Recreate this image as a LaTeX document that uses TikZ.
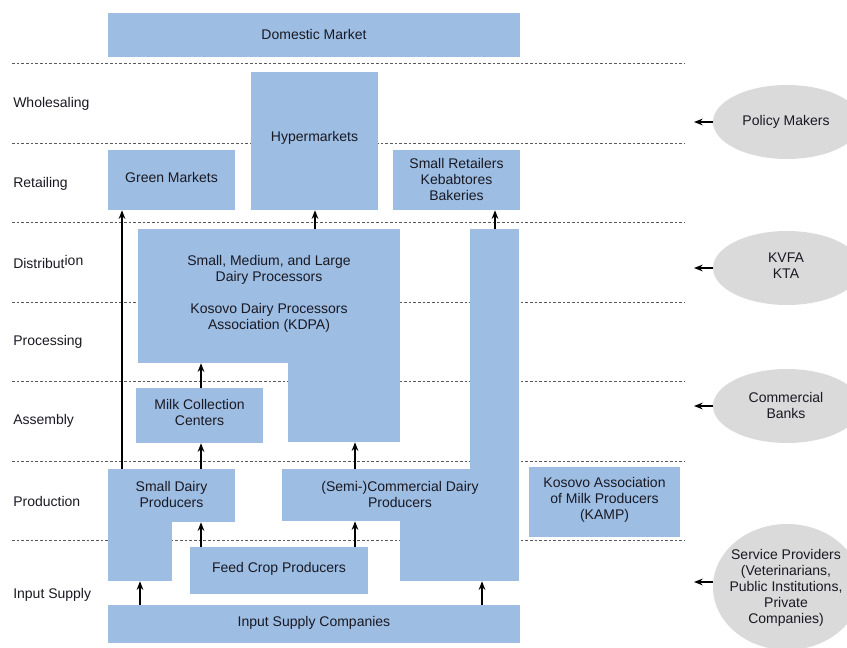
\documentclass[tikz,border=0pt]{standalone}
\usepackage{fontspec}
\setmainfont{Liberation Sans}
\usetikzlibrary{fit,shapes.geometric,arrows.meta}
\definecolor{boxblue}{RGB}{157,189,227}
\definecolor{ellgray}{RGB}{218,218,218}
\definecolor{txt}{RGB}{25,25,35}
\definecolor{dashgray}{RGB}{90,90,90}
\begin{document}
\begin{tikzpicture}[x=0.75pt,y=-0.75pt,
  font=\fontsize{10.5}{12}\selectfont, text=txt,
  box/.style={fill=boxblue, inner sep=0pt, align=center},
  ell/.style={ellipse, fill=ellgray, inner sep=0pt, align=center, minimum width=111pt, minimum height=55.5pt},
  arr/.style={line width=1.3pt, -{Stealth[length=6.5pt,width=5pt]}},
  sep/.style={dashgray, line width=0.6pt, dash pattern=on 2pt off 1.5pt},
  rowlbl/.style={anchor=west, inner sep=0pt},
  lbl/.style={align=center, inner sep=0pt}]
\useasboundingbox (0,0) rectangle (847,648);
\clip (0,0) rectangle (847,648);

% separators
\foreach \yy in {63,143,222,302,381,461,540} \draw[sep] (12,\yy) -- (685,\yy);

% row labels
\node[rowlbl] (rw) at (13,104) {Wholesaling};
\node[rowlbl] (rr) at (13,184) {Retailing};
\node[rowlbl] (rd) at (13,262) {Distribut\raisebox{2.5pt}{ion}};
\node[rowlbl] (rp) at (13,342) {Processing};
\node[rowlbl] (ra) at (13,421) {Assembly};
\node[rowlbl] (rpr) at (13,501) {Production};
\node[rowlbl] (ri) at (13,595) {Input Supply};

% boxes
\node[box, fit={(108,13)(520,57)}] (dm) {};
\node[lbl] (dmt) at (314,34.5) {Domestic Market};
\node[box, fit={(251,72)(378,210)}] (hm) {};
\node[lbl] (hmt) at (314.5,138) {Hypermarkets};
\node[box, fit={(108,150)(235,210)}] (gm) {};
\node[lbl] (gmt) at (171.5,177) {Green Markets};
\node[box, fit={(393,150)(520,210)}] (sr) {};
\node[lbl] (srt) at (456.5,179.5) {Small Retailers\\Kebabtores\\Bakeries};

\node[box, fit={(138,229)(400,363)}] (dp) {};
\node[box, fit={(288,362)(400,442)}] (dpl) {};
\node[lbl] (dpt) at (269,294) {Small, Medium, and Large\\Dairy Processors\\[12pt]Kosovo Dairy Processors\\Association (KDPA)};

\node[box, fit={(136,388)(263,443)}] (mc) {};
\node[lbl] (mct) at (199.5,412.5) {Milk Collection\\Centers};

\node[box, fit={(470,229)(519,470)}] (scc) {};
\node[box, fit={(282,469)(519,521)}] (scm) {};
\node[box, fit={(400,520)(519,581)}] (scl) {};
\node[lbl] (sct) at (400,494) {(Semi-)Commercial Dairy\\Producers};

\node[box, fit={(108,469)(235,522)}] (sd) {};
\node[box, fit={(108,521)(172,581)}] (sdl) {};
\node[lbl] (sdt) at (171.5,494) {Small Dairy\\Producers};

\node[box, fit={(190,547)(368,594)}] (fc) {};
\node[lbl] (fct) at (279,568.5) {Feed Crop Producers};
\node[box, fit={(108,605)(520,643)}] (isc) {};
\node[lbl] (isct) at (314,623) {Input Supply Companies};
\node[box, fit={(529,467)(680,537)}] (kamp) {};
\node[lbl] (kampt) at (604.5,500) {Kosovo Association\\of Milk Producers\\(KAMP)};

% ellipses
\node[ell] (pm) at (787,122) {};
\node[lbl] (pmt) at (786,122) {Policy Makers};
\node[ell] (kv) at (787,268) {};
\node[lbl] (kvt) at (786,266) {KVFA\\KTA};
\node[ell] (cb) at (787,406) {};
\node[lbl] (cbt) at (786,405) {Commercial\\Banks};
\node[ell, minimum height=94.5pt] (sp) at (787,587) {};
\node[lbl] (spt) at (786,588) {Service Providers\\(Veterinarians,\\Public Institutions,\\Private\\Companies)};

% arrow x positions
\coordinate (xa) at (122,0);
\coordinate (xb) at (315,0);
\coordinate (xc) at (495,0);
\coordinate (xd) at (201,0);
\coordinate (xe) at (355,0);
\coordinate (xf) at (140,0);
\coordinate (xg) at (482,0);
\coordinate (xr) at (694,0);

\draw[arr] (sd.north -| xa) -- (gm.south -| xa);
\draw[arr] (dp.north -| xb) -- (hm.south -| xb);
\draw[arr] (scc.north -| xc) -- (sr.south -| xc);
\draw[arr] (mc.north -| xd) -- (dp.south -| xd);
\draw[arr] (sd.north -| xd) -- (mc.south -| xd);
\draw[arr] (scm.north -| xe) -- (dpl.south -| xe);
\draw[arr] (fc.north -| xd) -- (sd.south -| xd);
\draw[arr] (fc.north -| xe) -- (scm.south -| xe);
\draw[arr] (isc.north -| xf) -- (sdl.south -| xf);
\draw[arr] (isc.north -| xg) -- (scl.south -| xg);

\draw[arr] (pm.west) -- (pm.west -| xr);
\draw[arr] (kv.west) -- (kv.west -| xr);
\draw[arr] (cb.west) -- (cb.west -| xr);
\draw[arr] ([yshift=3.75pt]sp.west) -- ([yshift=3.75pt]sp.west -| xr);
\end{tikzpicture}
\end{document}
